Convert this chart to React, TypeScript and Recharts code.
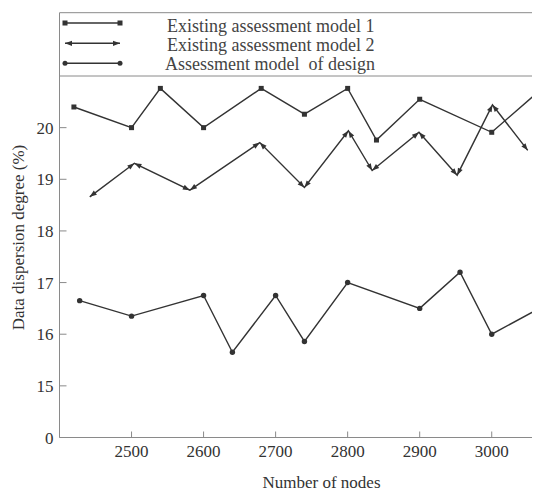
import { LineChart, Line, XAxis, YAxis, Legend, ReferenceLine, Label } from "recharts";

const FONT = '"Liberation Serif", "Times New Roman", serif';
const INK = "#333333";
const AXIS = "#8a8a8a";

const seriesNames = [
  "Existing assessment model 1",
  "Existing assessment model 2",
  "Assessment model  of design",
];

const model1Nodes = [2420, 2500, 2540, 2600, 2680, 2740, 2800, 2840, 2900, 3000, 3065];
const model1Values = [20.4, 20.0, 20.76, 20.0, 20.76, 20.26, 20.76, 19.76, 20.55, 19.91, 20.7];

const model2Nodes = [2442, 2504, 2581, 2678, 2740, 2801, 2834, 2899, 2952, 3001, 3050];
const model2Values = [18.66, 19.31, 18.79, 19.71, 18.84, 19.94, 19.17, 19.91, 19.08, 20.44, 19.56];

const designNodes = [2428, 2500, 2600, 2640, 2700, 2740, 2800, 2900, 2956, 3000, 3066];
const designValues = [16.65, 16.35, 16.75, 15.65, 16.75, 15.86, 17.0, 16.5, 17.2, 16.0, 16.5];

const xTicks = [2500, 2600, 2700, 2800, 2900, 3000];
// the axis is broken: 14 sits on the x axis and is labelled "0"
const yTicks = [14, 15, 16, 17, 18, 19, 20];

const toRows = (nodes: number[], values: number[]) =>
  nodes.map((n, i) => ({ nodes: n, value: values[i] }));

const model1 = toRows(model1Nodes, model1Values);
const model2 = toRows(model2Nodes, model2Values);
const design = toRows(designNodes, designValues);

function arrowHead(tx: number, ty: number, fx: number, fy: number, key: string) {
  const dx = tx - fx;
  const dy = ty - fy;
  const len = Math.hypot(dx, dy) || 1;
  const ux = dx / len;
  const uy = dy / len;
  const L = 7;
  const W = 2.6;
  const bx = tx - ux * L;
  const by = ty - uy * L;
  return (
    <polygon
      key={key}
      points={`${tx},${ty} ${bx - uy * W},${by + ux * W} ${bx + uy * W},${by - ux * W}`}
      fill={INK}
    />
  );
}

const SquareDot = (p: any) => (
  <rect key={`s${p.index}`} x={p.cx - 2.5} y={p.cy - 2.5} width={5} height={5} fill={INK} />
);

const CircleDot = (p: any) => (
  <circle key={`c${p.index}`} cx={p.cx} cy={p.cy} r={2.7} fill={INK} />
);

// every segment of model 2 is a double-headed arrow
const ArrowDot = (p: any) => {
  const pts = p.points || [];
  const prev = pts[p.index - 1];
  const next = pts[p.index + 1];
  return (
    <g key={`a${p.index}`}>
      {prev && arrowHead(p.cx, p.cy, prev.x, prev.y, "p")}
      {next && arrowHead(p.cx, p.cy, next.x, next.y, "n")}
    </g>
  );
};

const XTick = ({ x, y, payload }: any) => (
  <g>
    <line x1={x} x2={x} y1={y} y2={y - 6} stroke={AXIS} />
    <text x={x} y={y + 19} textAnchor="middle" fontFamily={FONT} fontSize={17} fill={INK}>
      {payload.value}
    </text>
  </g>
);

const YTick = ({ x, y, payload }: any) => (
  <g>
    <line x1={x} x2={x + 7} y1={y} y2={y} stroke={AXIS} />
    <text x={x - 6} y={y + 6} textAnchor="end" fontFamily={FONT} fontSize={17} fill={INK}>
      {payload.value === 14 ? "0" : payload.value}
    </text>
  </g>
);

function LegendBox({ payload }: any) {
  const rows = [23, 43.3, 63.3];
  const baselines = [31.5, 50.7, 70];
  const textX = [167, 167, 165];
  const items = [...(payload || [])].sort(
    (a: any, b: any) => seriesNames.indexOf(a.value) - seriesNames.indexOf(b.value)
  );
  return (
    <svg width={540} height={76} style={{ display: "block", overflow: "visible" }}>
      <line x1={59.5} x2={540} y1={12.7} y2={12.7} stroke={AXIS} />
      <line x1={59.5} x2={59.5} y1={12.7} y2={76} stroke={AXIS} />
      {items.map((entry: any, i: number) => {
        const y = rows[i];
        const kind = seriesNames.indexOf(entry.value);
        return (
          <g key={entry.value}>
            <line x1={65} x2={120} y1={y} y2={y} stroke={INK} strokeWidth={1.4} />
            {kind === 0 && (
              <>
                <rect x={62.5} y={y - 2.5} width={5} height={5} fill={INK} />
                <rect x={117.5} y={y - 2.5} width={5} height={5} fill={INK} />
              </>
            )}
            {kind === 1 && (
              <>
                {arrowHead(65, y, 120, y, "l")}
                {arrowHead(120, y, 65, y, "r")}
              </>
            )}
            {kind === 2 && (
              <>
                <circle cx={65} cy={y} r={2.5} fill={INK} />
                <circle cx={120} cy={y} r={2.5} fill={INK} />
              </>
            )}
            <text
              x={textX[i]}
              y={baselines[i]}
              fontFamily={FONT}
              fontSize={18}
              fill="#444"
              style={{ whiteSpace: "pre" }}
            >
              {entry.value}
            </text>
          </g>
        );
      })}
    </svg>
  );
}

export default function App() {
  return (
    <div style={{ margin: -8, width: 540, height: 498, overflow: "hidden" }}>
      <LineChart width={540} height={498} margin={{ top: 0, right: 0, bottom: 30.5, left: 0 }}>
        <Legend
          verticalAlign="top"
          align="left"
          content={<LegendBox />}
          wrapperStyle={{ left: 0, top: 0, width: 540, height: 76 }}
        />
        <XAxis
          type="number"
          dataKey="nodes"
          domain={[2400, 3067]}
          ticks={xTicks}
          height={30}
          tickSize={0}
          tickMargin={0}
          tickLine={false}
          axisLine={{ stroke: AXIS }}
          tick={<XTick />}
        >
          <Label
            content={({ viewBox }: any) => (
              <text
                x={viewBox.x + 262}
                y={viewBox.y + 50.5}
                textAnchor="middle"
                fontFamily={FONT}
                fontSize={17}
                fill={INK}
              >
                Number of nodes
              </text>
            )}
          />
        </XAxis>
        <YAxis
          type="number"
          domain={[14, 21]}
          ticks={yTicks}
          width={59.5}
          tickSize={0}
          tickMargin={0}
          tickLine={false}
          axisLine={{ stroke: AXIS }}
          tick={<YTick />}
        >
          <Label
            content={({ viewBox }: any) => {
              const x = 24;
              const y = viewBox.y + 161.5;
              return (
                <text
                  x={x}
                  y={y}
                  transform={`rotate(-90 ${x} ${y})`}
                  textAnchor="middle"
                  fontFamily={FONT}
                  fontSize={17}
                  fill={INK}
                >
                  Data dispersion degree (%)
                </text>
              );
            }}
          />
        </YAxis>
        <ReferenceLine y={21} stroke={AXIS} ifOverflow="visible" />
        <Line
          data={model1}
          dataKey="value"
          name={seriesNames[0]}
          stroke={INK}
          strokeWidth={1.4}
          dot={SquareDot}
          activeDot={false}
          isAnimationActive={false}
        />
        <Line
          data={model2}
          dataKey="value"
          name={seriesNames[1]}
          stroke={INK}
          strokeWidth={1.4}
          dot={ArrowDot}
          activeDot={false}
          isAnimationActive={false}
        />
        <Line
          data={design}
          dataKey="value"
          name={seriesNames[2]}
          stroke={INK}
          strokeWidth={1.4}
          dot={CircleDot}
          activeDot={false}
          isAnimationActive={false}
        />
      </LineChart>
    </div>
  );
}
